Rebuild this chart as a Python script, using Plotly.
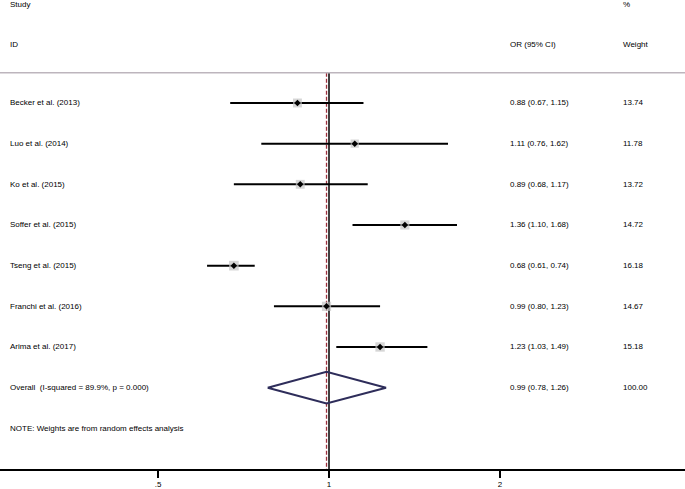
import plotly.graph_objects as go
import math

studies = ["Becker et al. (2013)", "Luo et al. (2014)", "Ko et al. (2015)",
           "Soffer et al. (2015)", "Tseng et al. (2015)", "Franchi et al. (2016)",
           "Arima et al. (2017)"]
or_est = [0.88, 1.11, 0.89, 1.36, 0.68, 0.99, 1.23]
ci_low = [0.67, 0.76, 0.68, 1.10, 0.61, 0.80, 1.03]
ci_high = [1.15, 1.62, 1.17, 1.68, 0.74, 1.23, 1.49]
weights = [13.74, 11.78, 13.72, 14.72, 16.18, 14.67, 15.18]
or_text = ["0.88 (0.67, 1.15)", "1.11 (0.76, 1.62)", "0.89 (0.68, 1.17)",
           "1.36 (1.10, 1.68)", "0.68 (0.61, 0.74)", "0.99 (0.80, 1.23)",
           "1.23 (1.03, 1.49)"]
weight_text = ["13.74", "11.78", "13.72", "14.72", "16.18", "14.67", "15.18"]

overall_label = "Overall  (I-squared = 89.9%, p = 0.000)"
overall_est = 0.99
overall_low = 0.78
overall_high = 1.26
overall_text = "0.99 (0.78, 1.26)"
overall_weight = "100.00"
note = "NOTE: Weights are from random effects analysis"

tick_vals = [0.5, 1, 2]
tick_text = [".5", "1", "2"]

FONT = "Liberation Sans Narrow, Liberation Sans, Arial, sans-serif"
fs = 8

rows = list(range(1, len(studies) + 1))
y_over = len(studies) + 1
y_note = len(studies) + 2
y_axis = len(studies) + 3
y_sep = 0.256

fig = go.Figure()

# vertical reference lines
fig.add_trace(go.Scatter(x=[1, 1], y=[y_sep, y_axis], mode="lines",
                         line=dict(color="black", width=1.5), hoverinfo="skip"))
fig.add_trace(go.Scatter(x=[overall_est, overall_est], y=[y_sep, y_axis], mode="lines",
                         line=dict(color="#9b2f3c", width=1.3, dash="4px,2px"), hoverinfo="skip"))

# CI lines
for y, lo, hi in zip(rows, ci_low, ci_high):
    fig.add_trace(go.Scatter(x=[lo, hi], y=[y, y], mode="lines",
                             line=dict(color="black", width=2), hoverinfo="skip"))

# weight boxes
fig.add_trace(go.Scatter(x=or_est, y=rows, mode="markers",
                         marker=dict(symbol="square", color="#c4c4c4",
                                     size=[math.sqrt(w) * 2.4 for w in weights],
                                     line=dict(width=0)), hoverinfo="skip"))
# point estimates
fig.add_trace(go.Scatter(x=or_est, y=rows, mode="markers",
                         marker=dict(symbol="diamond", color="black", size=5,
                                     line=dict(width=0)), hoverinfo="skip"))

# overall diamond
h = 0.39
fig.add_trace(go.Scatter(x=[overall_low, overall_est, overall_high, overall_est, overall_low],
                         y=[y_over, y_over - h, y_over, y_over + h, y_over],
                         mode="lines", line=dict(color="#2e2d5a", width=2), hoverinfo="skip"))

ann = []
def txt(xp, y, s):
    ann.append(dict(x=xp, y=y, xref="paper", yref="y", text=s, showarrow=False,
                    xanchor="left", yanchor="middle", font=dict(size=fs, color="black", family=FONT)))

x_lab = 8 / 685
x_or = 508 / 685
x_w = 621 / 685
txt(x_lab, -1.41, "Study")
txt(x_lab, -0.45, "ID")
txt(x_or, -0.45, "OR (95% CI)")
txt(x_w, -1.41, "%")
txt(x_w, -0.45, "Weight")
for y, s, o, w in zip(rows, studies, or_text, weight_text):
    txt(x_lab, y, s)
    txt(x_or, y, o)
    txt(x_w, y, w)
txt(x_lab, y_over, overall_label)
txt(x_or, y_over, overall_text)
txt(x_w, y_over, overall_weight)
txt(x_lab, y_note, note)

fig.add_shape(type="line", xref="paper", yref="y", x0=0, x1=1, y0=y_sep, y1=y_sep,
              line=dict(color="#bdb5bd", width=1.5))

top_y = y_axis - 469 / 40.67
fig.update_layout(
    width=685, height=489, margin=dict(l=0, r=0, t=0, b=20),
    paper_bgcolor="white", plot_bgcolor="white", showlegend=False,
    annotations=ann,
    xaxis=dict(type="log", range=[math.log10(2 ** (-329 / 171)), math.log10(2 ** (356 / 171))],
               tickvals=tick_vals, ticktext=tick_text, showgrid=False, zeroline=False,
               showline=True, linecolor="black", linewidth=1.5,
               ticks="outside", ticklen=7, tickwidth=2, tickcolor="black",
               tickfont=dict(size=fs, color="black", family=FONT)),
    yaxis=dict(range=[y_axis, top_y], showgrid=False, zeroline=False, showline=False,
               showticklabels=False, ticks=""),
)

fig.write_html("out.html", config={"displayModeBar": False},
               post_script="document.body.style.margin='0';document.body.style.overflow='hidden';")
